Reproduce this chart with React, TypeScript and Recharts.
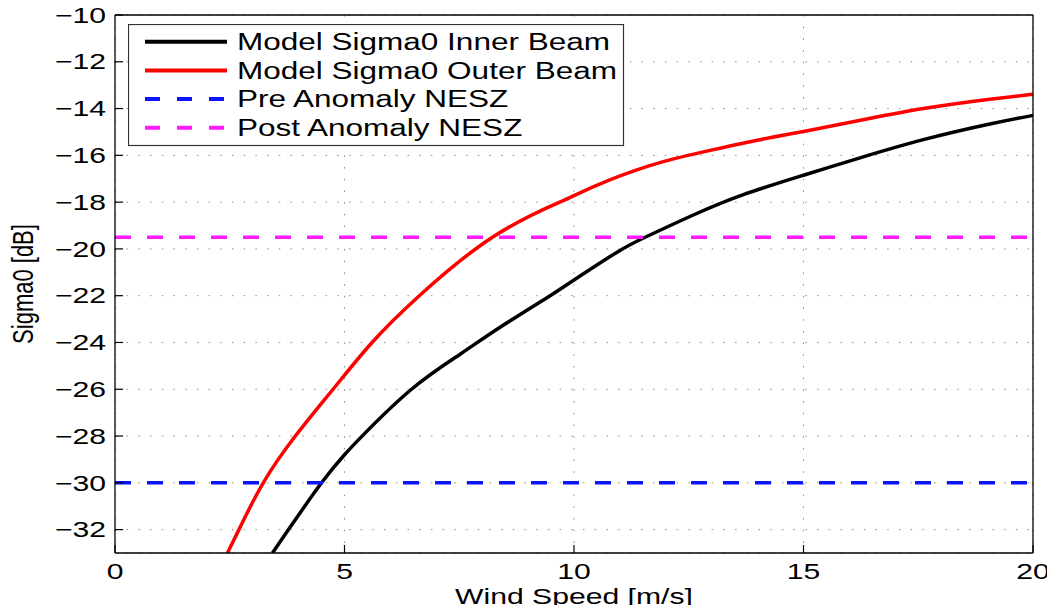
import { LineChart, Line, XAxis, YAxis, CartesianGrid, Legend, Label } from 'recharts'

// values
const SPEED_TICKS = [0, 5, 10, 15, 20]
const SIGMA_TICKS = [-32, -30, -28, -26, -24, -22, -20, -18, -16, -14, -12, -10]

const INNER_SPEED = [3.43, 3.78, 4.5, 5.0, 5.41, 6.46, 7.52, 8.39, 9.48, 10.0, 10.93, 11.55, 12.6, 13.69, 15.0, 16.16, 17.61, 19.06, 20.0]
const INNER_SIGMA = [-33.0, -32.0, -30.0, -28.8, -27.95, -26.0, -24.5, -23.35, -22.0, -21.33, -20.15, -19.5, -18.55, -17.68, -16.85, -16.15, -15.33, -14.66, -14.29]

const OUTER_SPEED = [2.45, 2.7, 3.23, 3.93, 4.75, 5.6, 6.63, 8.24, 9.69, 10.0, 10.78, 11.87, 12.96, 14.05, 15.0, 16.16, 17.61, 19.06, 20.0]
const OUTER_SIGMA = [-33.0, -32.0, -30.0, -28.0, -26.0, -24.0, -22.0, -19.48, -18.0, -17.72, -17.05, -16.31, -15.79, -15.33, -14.98, -14.53, -14.0, -13.6, -13.39]

const PRE_NESZ = -30
const POST_NESZ = -19.5

const zip = (xs: number[], ys: number[]) => xs.map((speed, i) => ({ speed, sigma: ys[i] }))
const flat = (level: number) => [{ speed: 0, sigma: level }, { speed: 20, sigma: level }]

const SERIES = [
  { name: 'Model Sigma0 Inner Beam', color: '#000000', dash: undefined, data: zip(INNER_SPEED, INNER_SIGMA) },
  { name: 'Model Sigma0 Outer Beam', color: '#ff0000', dash: undefined, data: zip(OUTER_SPEED, OUTER_SIGMA) },
  { name: 'Pre Anomaly NESZ', color: '#0a14ff', dash: '16 16', data: flat(PRE_NESZ) },
  { name: 'Post Anomaly NESZ', color: '#ff1aff', dash: '16 16', data: flat(POST_NESZ) },
]

const FONT = "'Liberation Sans', Arial, Helvetica, sans-serif"
const SX = 1.37 // the figure is stretched horizontally
const fmt = (v: number) => String(v).replace('-', '\u2212')

const YTick = ({ x, y, payload }: any) => (
  <g transform={`translate(${x},${y}) scale(${SX},1)`}>
    <text textAnchor="end" dy="0.35em" fontSize={22} fill="#000" fontFamily={FONT}>{fmt(payload.value)}</text>
  </g>
)

const XTick = ({ x, y, payload }: any) => (
  <g transform={`translate(${x},${y}) scale(${SX},1)`}>
    <text textAnchor="middle" dy="0.71em" fontSize={22} fill="#000" fontFamily={FONT}>{payload.value}</text>
  </g>
)

const XTitle = ({ viewBox }: any) => (
  <g transform={`translate(${viewBox.x + viewBox.width / 2},${viewBox.y + 51}) scale(${SX},1)`}>
    <text textAnchor="middle" fontSize={22} fill="#000" fontFamily={FONT}>Wind Speed [m/s]</text>
  </g>
)

const YTitle = ({ viewBox }: any) => (
  <g transform={`translate(${viewBox.x - 33},${viewBox.y + viewBox.height / 2}) scale(${SX},1) rotate(-90)`}>
    <text textAnchor="middle" dy="0.35em" fontSize={22} fill="#000" fontFamily={FONT}>Sigma0 [dB]</text>
  </g>
)

const renderLegend = () => (
  <svg width={497} height={123} style={{ display: 'block' }}>
    <rect x={0.5} y={0.5} width={495} height={121} fill="#fff" stroke="#333" strokeWidth={1.2} />
    {SERIES.map((s, i) => {
      const cy = 17.7 + i * 28.7
      return (
        <g key={s.name}>
          <line x1={17} x2={99} y1={cy} y2={cy} stroke={s.color} strokeWidth={4} strokeDasharray={s.dash ? '15 17' : undefined} />
          <g transform={`translate(109,${cy}) scale(${SX},1)`}>
            <text dy="0.36em" fontSize={23} fill="#000" fontFamily={FONT}>{s.name}</text>
          </g>
        </g>
      )
    })}
  </svg>
)

export default function App() {
  return (
    <div style={{ margin: -8, width: 1055, height: 613, background: '#fff', fontFamily: FONT }}>
      <LineChart width={1055} height={613} margin={{ top: 14, right: 21, left: 55, bottom: 0 }}>
        <CartesianGrid stroke="#8c8c8c" strokeDasharray="1.5 10.2" />
        <XAxis
          dataKey="speed"
          type="number"
          domain={[0, 20]}
          ticks={SPEED_TICKS}
          interval={0}
          height={60}
          tickSize={-8}
          tickMargin={18}
          tick={<XTick />}
          axisLine={{ stroke: '#000', strokeWidth: 1.3 }}
          tickLine={{ stroke: '#000', strokeWidth: 1.2 }}
        >
          <Label content={<XTitle />} />
        </XAxis>
        <XAxis
          xAxisId="top"
          orientation="top"
          type="number"
          domain={[0, 20]}
          ticks={SPEED_TICKS}
          interval={0}
          height={1}
          tickSize={-8}
          tick={false}
          axisLine={{ stroke: '#000', strokeWidth: 1.3 }}
          tickLine={{ stroke: '#000', strokeWidth: 1.2 }}
        />
        <YAxis
          type="number"
          domain={[-33, -10]}
          ticks={SIGMA_TICKS}
          interval={0}
          allowDataOverflow
          width={60}
          tickSize={-8}
          tickMargin={17}
          tick={<YTick />}
          axisLine={{ stroke: '#000', strokeWidth: 1.3 }}
          tickLine={{ stroke: '#000', strokeWidth: 1.2 }}
        >
          <Label content={<YTitle />} />
        </YAxis>
        <YAxis
          yAxisId="right"
          orientation="right"
          type="number"
          domain={[-33, -10]}
          ticks={SIGMA_TICKS}
          interval={0}
          width={1}
          tickSize={-8}
          tick={false}
          axisLine={{ stroke: '#000', strokeWidth: 1.3 }}
          tickLine={{ stroke: '#000', strokeWidth: 1.2 }}
        />
        {SERIES.map((s) => (
          <Line
            key={s.name}
            data={s.data}
            dataKey="sigma"
            name={s.name}
            type="natural"
            stroke={s.color}
            strokeWidth={3.5}
            strokeDasharray={s.dash}
            dot={false}
            activeDot={false}
            isAnimationActive={false}
          />
        ))}
        <Legend
          content={renderLegend}
          layout="horizontal"
          verticalAlign="middle"
          align="center"
          wrapperStyle={{ left: 128, top: 24, width: 'auto', height: 'auto' }}
        />
      </LineChart>
    </div>
  )
}
